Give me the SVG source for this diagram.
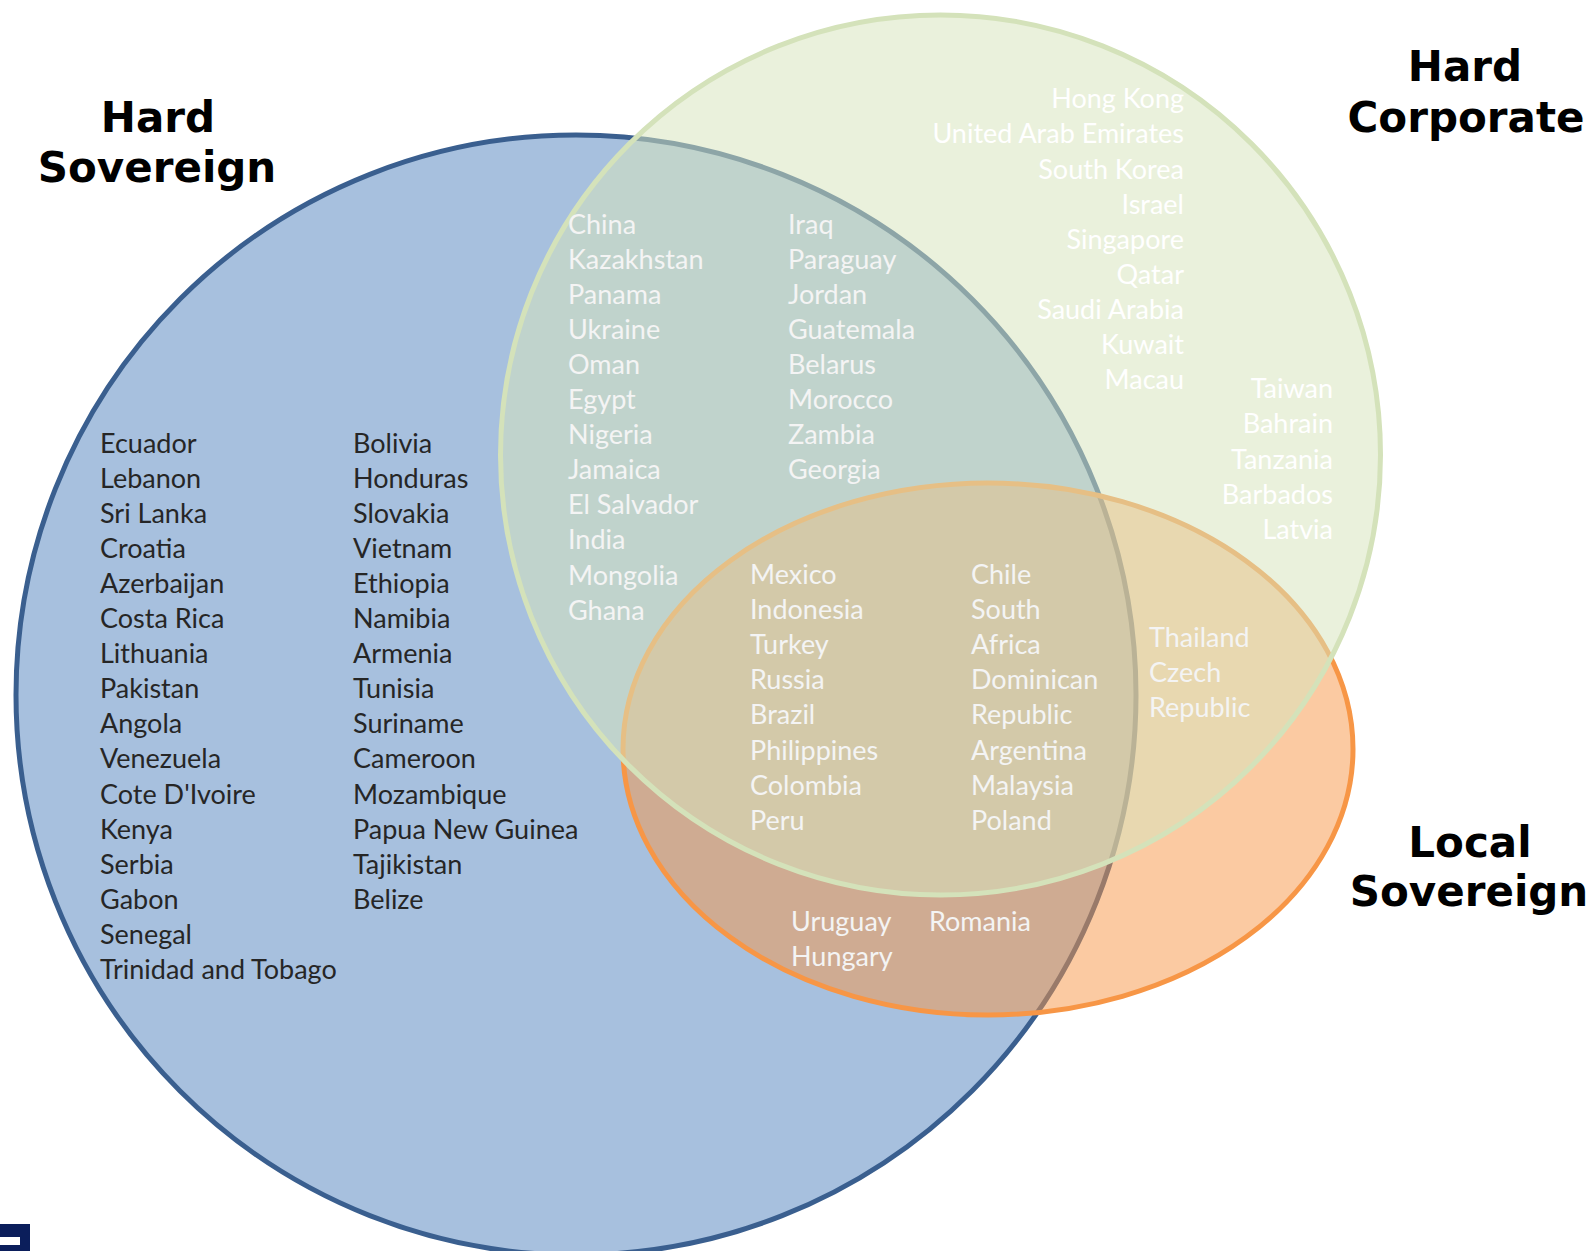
<svg xmlns="http://www.w3.org/2000/svg" width="1595" height="1251" viewBox="0 0 1595 1251">
<style>
.c{font-family:Lato,"Open Sans","Liberation Sans",sans-serif;font-size:27px}
.dk{fill:#262626}
.lt{fill:#F4F4F4}
.wt{fill:#FFFFFF}
.r{text-anchor:end}
.t{font-family:"DejaVu Sans",Verdana,sans-serif;font-weight:bold;font-size:42px;fill:#000;text-anchor:middle}
</style>
<rect width="1595" height="1251" fill="#fff"/>
<g id="hard-sovereign">
<circle cx="576" cy="695" r="560" fill="#4F81BD" fill-opacity="0.5" stroke="#3A5F8F" stroke-width="5"/>
</g>
<g id="local-sovereign">
<ellipse cx="988" cy="749" rx="365" ry="266" fill="#F79646" fill-opacity="0.5" stroke="#F79646" stroke-width="5"/>
</g>
<g id="hard-corporate">
<circle cx="940.5" cy="455" r="440" fill="#D7E4BD" fill-opacity="0.53" stroke="#D4E2BA" stroke-width="5"/>
</g>
<g id="logo">
<rect x="0" y="1224" width="30" height="27" fill="#0B1E5B"/>
<rect x="0" y="1237" width="20" height="8" fill="#fff"/>
</g>
<g id="titles">
<text class="t" x="158" y="132">Hard<tspan x="157" dy="50">Sovereign</tspan></text>
<text class="t" x="1465" y="81">Hard<tspan x="1466" dy="51">Corporate</tspan></text>
<text class="t" x="1470" y="857">Local<tspan x="1469" dy="49">Sovereign</tspan></text>
</g>
<g id="sovereign-only" class="c dk">
<text x="100" y="452.5">Ecuador<tspan x="100" dy="35.1">Lebanon</tspan><tspan x="100" dy="35.1">Sri Lanka</tspan><tspan x="100" dy="35.1">Croatia</tspan><tspan x="100" dy="35.1">Azerbaijan</tspan><tspan x="100" dy="35.1">Costa Rica</tspan><tspan x="100" dy="35.1">Lithuania</tspan><tspan x="100" dy="35.1">Pakistan</tspan><tspan x="100" dy="35.1">Angola</tspan><tspan x="100" dy="35.1">Venezuela</tspan><tspan x="100" dy="35.1">Cote D'Ivoire</tspan><tspan x="100" dy="35.1">Kenya</tspan><tspan x="100" dy="35.1">Serbia</tspan><tspan x="100" dy="35.1">Gabon</tspan><tspan x="100" dy="35.1">Senegal</tspan><tspan x="100" dy="35.1">Trinidad and Tobago</tspan></text>
<text x="353" y="452.5">Bolivia<tspan x="353" dy="35.1">Honduras</tspan><tspan x="353" dy="35.1">Slovakia</tspan><tspan x="353" dy="35.1">Vietnam</tspan><tspan x="353" dy="35.1">Ethiopia</tspan><tspan x="353" dy="35.1">Namibia</tspan><tspan x="353" dy="35.1">Armenia</tspan><tspan x="353" dy="35.1">Tunisia</tspan><tspan x="353" dy="35.1">Suriname</tspan><tspan x="353" dy="35.1">Cameroon</tspan><tspan x="353" dy="35.1">Mozambique</tspan><tspan x="353" dy="35.1">Papua New Guinea</tspan><tspan x="353" dy="35.1">Tajikistan</tspan><tspan x="353" dy="35.1">Belize</tspan></text>
</g>
<g id="sovereign-corporate" class="c lt">
<text x="568" y="233.5">China<tspan x="568" dy="35.1">Kazakhstan</tspan><tspan x="568" dy="35.1">Panama</tspan><tspan x="568" dy="35.1">Ukraine</tspan><tspan x="568" dy="35.1">Oman</tspan><tspan x="568" dy="35.1">Egypt</tspan><tspan x="568" dy="35.1">Nigeria</tspan><tspan x="568" dy="35.1">Jamaica</tspan><tspan x="568" dy="35.1">El Salvador</tspan><tspan x="568" dy="35.1">India</tspan><tspan x="568" dy="35.1">Mongolia</tspan><tspan x="568" dy="35.1">Ghana</tspan></text>
<text x="788" y="233.5">Iraq<tspan x="788" dy="35.1">Paraguay</tspan><tspan x="788" dy="35.1">Jordan</tspan><tspan x="788" dy="35.1">Guatemala</tspan><tspan x="788" dy="35.1">Belarus</tspan><tspan x="788" dy="35.1">Morocco</tspan><tspan x="788" dy="35.1">Zambia</tspan><tspan x="788" dy="35.1">Georgia</tspan></text>
</g>
<g id="corporate-only" class="c wt r">
<text x="1184" y="108.3">Hong Kong<tspan x="1184" dy="35.1">United Arab Emirates</tspan><tspan x="1184" dy="35.1">South Korea</tspan><tspan x="1184" dy="35.1">Israel</tspan><tspan x="1184" dy="35.1">Singapore</tspan><tspan x="1184" dy="35.1">Qatar</tspan><tspan x="1184" dy="35.1">Saudi Arabia</tspan><tspan x="1184" dy="35.1">Kuwait</tspan><tspan x="1184" dy="35.1">Macau</tspan></text>
<text x="1333" y="398.3">Taiwan<tspan x="1333" dy="35.1">Bahrain</tspan><tspan x="1333" dy="35.1">Tanzania</tspan><tspan x="1333" dy="35.1">Barbados</tspan><tspan x="1333" dy="35.1">Latvia</tspan></text>
</g>
<g id="all-three" class="c lt">
<text x="750" y="584">Mexico<tspan x="750" dy="35.1">Indonesia</tspan><tspan x="750" dy="35.1">Turkey</tspan><tspan x="750" dy="35.1">Russia</tspan><tspan x="750" dy="35.1">Brazil</tspan><tspan x="750" dy="35.1">Philippines</tspan><tspan x="750" dy="35.1">Colombia</tspan><tspan x="750" dy="35.1">Peru</tspan></text>
<text x="971" y="584">Chile<tspan x="971" dy="35.1">South</tspan><tspan x="971" dy="35.1">Africa</tspan><tspan x="971" dy="35.1">Dominican</tspan><tspan x="971" dy="35.1">Republic</tspan><tspan x="971" dy="35.1">Argentina</tspan><tspan x="971" dy="35.1">Malaysia</tspan><tspan x="971" dy="35.1">Poland</tspan></text>
</g>
<g id="corporate-local" class="c lt">
<text x="1149" y="646.5">Thailand<tspan x="1149" dy="35.1">Czech</tspan><tspan x="1149" dy="35.1">Republic</tspan></text>
</g>
<g id="sovereign-local" class="c lt">
<text x="791" y="931">Uruguay<tspan x="791" dy="35.1">Hungary</tspan></text>
<text x="929" y="931">Romania</text>
</g>
</svg>
